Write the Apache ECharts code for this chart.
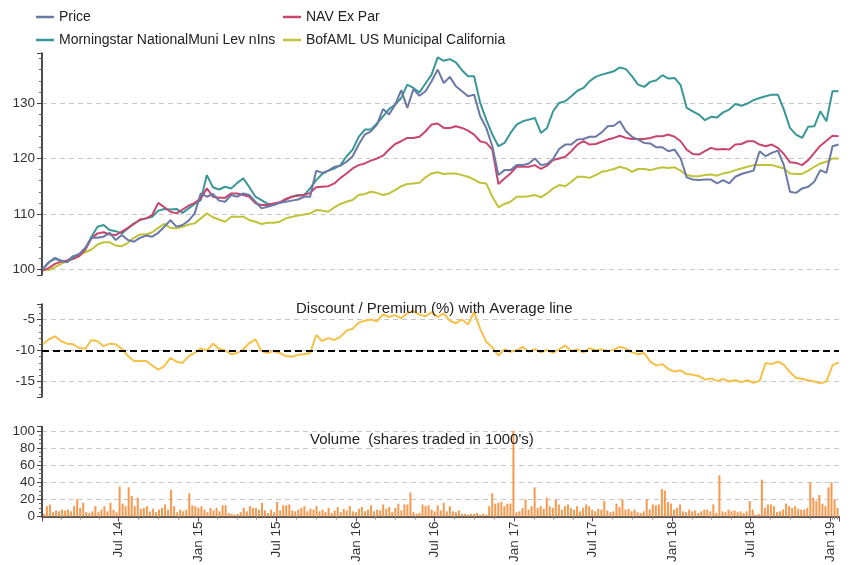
<!DOCTYPE html>
<html>
<head>
<meta charset="utf-8">
<script src="https://cdn.jsdelivr.net/npm/echarts@6/dist/echarts.min.js"></script>
<style>html,body{margin:0;padding:0;background:#fff}#c{width:850px;height:565px}</style>
</head>
<body>
<div id="c"></div>
<script>
// ---- data (biweekly closes from 10 Jan 2014, normalised to 100) ----
const LINE_START = [2014, 0, 10];
const LINE_STEP_DAYS = 14;
const PRICE = [100.1,101.3,102.1,101.6,101.3,102.2,102.8,103.9,105.7,105.7,
105.9,106.6,105.3,106.2,105.3,105.0,105.7,106.1,105.9,106.6,
107.7,108.9,107.7,108.0,108.8,110.1,113.7,113.1,113.6,112.4,
112.2,113.4,113.1,113.7,113.4,112.2,111.0,111.3,111.6,112.0,
112.2,112.4,112.6,113.1,113.1,117.8,117.4,117.8,118.5,118.7,
119.4,120.4,122.5,124.3,124.9,126.1,128.9,127.9,129.7,132.3,
129.1,132.5,131.3,132.1,133.9,136.0,133.6,134.7,133.0,132.1,
131.2,131.5,127.6,125.5,122.2,117.0,117.9,117.9,118.8,118.8,
119.1,120.0,118.8,119.0,119.9,121.7,122.5,122.5,123.4,123.5,
123.9,123.9,124.7,125.8,125.9,126.7,124.9,123.9,123.4,122.8,
122.7,122.0,122.0,121.3,121.6,120.0,116.6,116.2,116.1,116.2,
116.2,115.5,116.1,115.5,116.7,117.2,117.5,117.8,121.3,120.4,
121.0,121.4,118.8,114.0,113.8,114.6,114.9,115.8,117.9,117.4,
122.2,122.5];
const NAV = [99.8,100.3,101.0,101.4,101.6,101.9,102.4,103.6,105.6,106.5,
106.7,106.3,106.2,106.8,107.5,108.2,109.0,109.2,109.8,112.0,
111.2,110.4,110.1,110.8,111.5,112.0,112.8,114.6,113.1,112.9,
112.9,113.7,113.7,113.4,113.1,111.9,111.6,111.6,111.9,112.1,
112.7,113.1,113.3,113.4,113.8,114.8,114.9,115.0,115.5,116.5,
117.3,118.2,118.8,119.1,119.6,120.0,120.5,121.6,122.6,123.1,
123.7,123.7,123.9,124.9,126.1,126.3,125.5,125.5,125.8,125.5,
125.0,124.3,123.1,122.8,121.6,115.4,116.4,117.3,118.5,118.5,
118.5,118.8,118.1,118.7,119.7,120.0,120.3,121.3,122.5,123.1,
122.5,122.6,123.0,123.4,123.7,124.1,123.7,123.5,123.5,123.5,
123.7,124.0,124.0,124.3,123.9,123.1,121.6,120.8,120.7,121.3,
121.9,121.6,121.7,121.6,122.5,122.6,123.1,123.1,122.5,122.2,
122.5,121.9,120.8,119.3,119.2,118.8,119.7,121.0,122.3,123.2,
124.1,124.0];
const MSTAR = [100.1,101.3,101.9,101.5,101.5,102.4,102.7,103.7,105.9,107.7,
108.0,107.1,106.9,106.5,107.4,108.3,108.9,109.2,109.5,110.6,
110.9,110.8,110.9,110.2,111.0,111.8,112.5,117.0,114.8,114.4,
114.9,114.6,115.6,116.4,114.8,113.1,112.5,111.8,111.8,112.0,
112.6,113.1,113.4,113.4,114.6,116.1,117.2,117.8,118.2,118.8,
120.4,121.6,123.9,125.2,125.2,126.3,127.6,128.9,129.7,130.9,
133.3,132.7,131.9,133.5,135.1,138.2,137.6,137.9,137.3,135.9,
134.8,134.8,130.0,127.0,124.3,122.2,122.8,124.6,126.1,126.7,
127.0,127.3,124.6,125.5,128.5,130.0,130.3,131.2,132.2,132.7,
133.9,134.7,135.1,135.4,135.7,136.4,136.1,134.8,133.3,132.9,
133.8,134.1,135.0,134.4,134.5,133.2,129.1,128.5,127.9,126.9,
127.5,127.4,128.3,128.8,129.8,129.5,129.9,130.5,130.9,131.2,
131.5,131.5,128.8,125.5,124.3,123.7,125.7,125.8,128.5,126.7,
132.1,132.1];
const BOFA = [100.0,99.9,100.4,101.0,101.5,101.9,102.5,103.1,103.6,104.5,
104.9,104.9,104.3,104.2,104.8,105.7,106.3,106.3,106.7,107.5,
108.2,107.5,107.4,107.7,108.1,108.3,109.2,110.1,109.4,109.0,
108.6,109.5,109.5,109.5,108.9,108.6,108.2,108.4,108.4,108.6,
109.2,109.5,109.7,109.9,110.1,110.7,110.6,110.4,111.2,111.8,
112.2,112.5,113.4,113.6,114.0,113.8,113.4,113.7,114.3,115.0,
115.4,115.5,115.6,116.6,117.3,117.5,117.2,117.3,117.3,117.0,
116.7,116.2,115.6,115.5,113.1,111.2,111.8,112.2,113.1,113.1,
113.2,113.4,113.0,113.7,114.6,115.2,115.0,115.8,116.7,116.7,
116.5,117.0,117.6,117.8,118.1,118.5,118.2,117.6,118.1,118.1,
117.9,118.2,118.4,118.3,118.4,117.8,117.0,116.8,116.8,117.0,
117.1,116.9,117.3,117.5,117.9,118.2,118.5,118.8,118.8,118.8,
118.8,118.5,118.2,117.3,117.2,117.2,117.8,118.5,119.1,119.4,
120.0,120.0];
const DISC = [-9.0,-8.2,-7.7,-8.5,-8.9,-9.0,-9.6,-9.7,-8.3,-8.5,
-9.3,-8.9,-9.0,-9.7,-10.9,-11.7,-11.7,-11.7,-12.4,-13.1,
-12.5,-11.2,-11.8,-12.0,-10.9,-10.4,-9.7,-10.0,-8.9,-9.7,
-10.0,-10.6,-10.4,-9.8,-8.8,-8.2,-10.1,-10.4,-10.1,-10.4,
-10.9,-11.0,-10.7,-10.6,-10.4,-7.5,-8.5,-8.0,-8.3,-7.8,
-6.8,-6.5,-5.5,-5.2,-5.0,-5.3,-4.2,-4.6,-4.3,-4.8,
-4.0,-3.6,-4.2,-4.5,-3.8,-4.6,-4.0,-5.2,-5.6,-5.0,
-5.8,-3.8,-6.5,-8.6,-9.5,-10.8,-9.8,-10.2,-10.0,-9.4,
-10.2,-9.8,-10.3,-9.9,-10.4,-9.8,-9.2,-10.1,-9.8,-10.3,
-9.6,-10.0,-9.8,-10.1,-9.9,-9.4,-9.7,-10.3,-10.6,-10.4,
-11.8,-12.4,-12.2,-13.0,-13.4,-13.2,-13.8,-13.9,-14.1,-14.7,
-14.5,-14.9,-14.6,-15.0,-14.8,-15.1,-14.8,-15.2,-14.9,-12.0,
-12.2,-11.8,-12.3,-13.5,-14.4,-14.6,-14.8,-15.0,-15.3,-15.0,
-12.4,-11.9];
const DISC_AVG = -10.0;
// ---- weekly volume (1000's of shares) from 10 Jan 2014 ----
const VOL_STEP_DAYS = 7;
const VOLUME = [3,12,14,5,7,6,8,7,8,6,
12,20,10,16,5,4,6,12,5,8,
12,6,16,8,5,35,15,12,34,24,
12,22,9,10,12,6,9,5,8,10,
14,8,31,12,5,8,6,8,27,13,
12,10,12,8,5,10,7,10,6,13,
13,4,3,2,3,5,10,6,12,10,
10,8,16,7,4,8,5,17,7,13,
13,14,7,6,8,10,12,6,9,8,
12,6,8,5,10,4,7,11,5,9,
7,12,6,5,9,11,6,8,13,6,
8,7,14,9,11,5,10,15,7,14,
14,28,5,3,4,14,12,13,8,6,
13,7,16,6,12,6,5,7,3,3,
2,3,3,4,2,3,2,12,27,15,
16,17,12,15,15,100,5,6,10,20,
8,12,34,10,12,9,22,12,10,20,
14,8,12,14,10,8,12,6,10,14,
12,8,6,9,8,18,7,5,6,15,
11,20,8,9,6,8,5,4,6,20,
8,14,13,14,32,30,17,15,8,10,
14,6,5,8,6,7,4,6,8,8,
6,14,4,48,6,5,8,6,7,5,
6,4,6,18,8,2,3,43,10,14,
14,12,5,6,8,15,12,10,12,9,
8,8,10,40,22,18,25,15,12,34,
40,20,10];
const MONTHS = ['Jan','Feb','Mar','Apr','May','Jun','Jul','Aug','Sep','Oct','Nov','Dec'];
const X_MIN = new Date(2014, 0, 8).getTime();
const X_MAX = new Date(2019, 0, 19).getTime();
const NAMES = ['Price','NAV Ex Par','Morningstar NationalMuni Lev nIns','BofAML US Municipal California'];
const COLORS = ['#6b79a7','#c8466e','#3b9797','#c0c23a'];

function dateAt(stepDays, i){ return new Date(LINE_START[0], LINE_START[1], LINE_START[2] + stepDays*i).getTime(); }
function pairs(arr, step){ return arr.map((v,i)=>[dateAt(step,i), v]); }

const FONT = "'Liberation Sans',Arial,sans-serif";
const chart = echarts.init(document.getElementById('c'), null, {renderer:'canvas'});

function xAxis(idx){
  return {
    type:'time', gridIndex: idx, min: X_MIN, max: X_MAX, splitNumber: 10, show: idx === 2,
    axisLine:{show:true, onZero:false, lineStyle:{color:'#555', width:2}},
    axisTick:{show:true, length:5, lineStyle:{color:'#6a3f6a', width:1}},
    minorTick:{show:true, splitNumber:4, length:3, lineStyle:{color:'#888'}},
    axisLabel:{rotate:90, fontFamily:FONT, fontSize:13.5, color:'#333', margin:5,
      showMinLabel:false, showMaxLabel:false,
      formatter: v => { const d = new Date(v); return MONTHS[d.getMonth()] + ' ' + String(d.getFullYear()).slice(2); }},
    splitLine:{show:false}
  };
}
function yAxis(idx, min, max, split, minorSplit, showMin){
  return {
    type:'value', gridIndex: idx, min, max, splitNumber: split,
    axisLine:{show:true, lineStyle:{color:'#111', width:1.5}},
    axisTick:{show:true, length:5, lineStyle:{color:'#444'}},
    minorTick:{show:true, splitNumber:minorSplit, length:3, lineStyle:{color:'#666'}},
    minorSplitLine:{show:false},
    axisLabel:{fontFamily:FONT, fontSize:13.5, color:'#333', margin:7, showMinLabel:showMin, showMaxLabel:false},
    splitLine:{show:true, showMinLine:false, showMaxLine:false,
      lineStyle:{type:[5,4], color:'#c8c8c8', width:1}}
  };
}
const lineSeries = [PRICE, NAV, MSTAR, BOFA].map((arr, k) => ({
  name: NAMES[k], type:'line', xAxisIndex:0, yAxisIndex:0, data: pairs(arr, LINE_STEP_DAYS),
  showSymbol:false, symbol:'none', lineStyle:{width:2, color: COLORS[k]}, itemStyle:{color: COLORS[k]}, z: 4-k
}));

chart.setOption({
  animation:false,
  backgroundColor:'#fff',
  textStyle:{fontFamily:FONT},
  legend:[
    {data:[NAMES[0], NAMES[2]], orient:'vertical', left:36, top:9, itemWidth:18, itemHeight:2.5, itemGap:7, icon:'rect',
      textStyle:{fontFamily:FONT, fontSize:14, color:'#222', lineHeight:16}, padding:0},
    {data:[NAMES[1], NAMES[3]], orient:'vertical', left:283, top:9, itemWidth:18, itemHeight:2.5, itemGap:7, icon:'rect',
      textStyle:{fontFamily:FONT, fontSize:14, color:'#222', lineHeight:16}, padding:0}
  ],
  title:[
    {text:'Discount / Premium (%) with Average line', left:296, top:301, padding:0,
      textStyle:{fontFamily:FONT, fontSize:15, fontWeight:'normal', color:'#222'}},
    {text:"Volume  (shares traded in 1000's)", left:310, top:432, padding:0,
      textStyle:{fontFamily:FONT, fontSize:15, fontWeight:'normal', color:'#222'}}
  ],
  grid:[
    {left:42, right:11, top:53, height:222},
    {left:42, right:11, top:304, height:93},
    {left:42, right:11, top:426.5, height:94.5}
  ],
  xAxis:[xAxis(0), xAxis(1), xAxis(2)],
  yAxis:[yAxis(0, 99, 139, 4, 5, false), yAxis(1, -17.5, -2.5, 3, 5, false), yAxis(2, 0, 105, 5, 4, true)],
  series: lineSeries.concat([
    {name:'Discount', type:'line', xAxisIndex:1, yAxisIndex:1, data: pairs(DISC, LINE_STEP_DAYS),
      showSymbol:false, symbol:'none', lineStyle:{width:2, color:'#f5c14b'}, z:3,
      markLine:{silent:true, symbol:'none', label:{show:false},
        lineStyle:{type:[7,4], color:'#000', width:2}, data:[{yAxis: DISC_AVG}]}},
    {name:'Volume', type:'bar', xAxisIndex:2, yAxisIndex:2, data: pairs(VOLUME, VOL_STEP_DAYS),
      barWidth:2, itemStyle:{color:'#f7994f'}}
  ])
});
</script>
</body>
</html>
